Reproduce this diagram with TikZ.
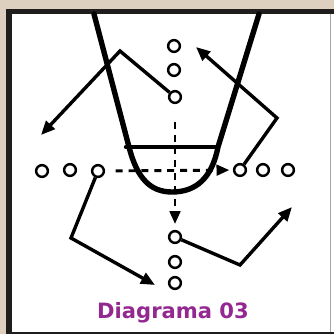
\documentclass[tikz,border=0pt]{standalone}
\usepackage{fontspec}
\usetikzlibrary{arrows.meta}
\newfontfamily\labelfont{DejaVu Sans}
\definecolor{beige}{RGB}{222,208,190}
\definecolor{framedark}{RGB}{32,29,29}
\definecolor{titlepurple}{RGB}{147,40,145}
\tikzset{
  player/.style={circle,draw=black,line width=2.1pt,minimum size=10pt,inner sep=0pt,fill=white},
  lane/.style={line width=4.6pt,line join=round,line cap=round},
  route/.style={line width=2.9pt,line join=miter,-{Triangle[length=12pt,width=10pt]}},
  dashroute/.style={line width=2.5pt,dash pattern=on 6pt off 5pt,-{Triangle[length=11pt,width=9pt]}},
  title/.style={font=\labelfont\bfseries\fontsize{18pt}{20pt}\selectfont,text=titlepurple}
}
\begin{document}
\begin{tikzpicture}[x=0.03cm,y=-0.03cm]
\useasboundingbox (0,0) rectangle (334,334);
% frame
\fill[beige] (0,0) rectangle (334,334);
\fill[framedark] (6,9) rectangle (334,334);
\fill[white] (12,14) rectangle (334,332);
\draw[gray!70,line width=1.2pt] (330.5,14) -- (330.5,332);
% lane
\draw[lane] (94,14) -- (129,147) .. controls (137,178) and (150,192) .. (172,192)
  .. controls (196,192) and (212,178) .. (218,147) -- (259,14);
\draw[lane,line width=3.8pt] (126,147) -- (218,147);
% players
\node[player] (t1) at (174,46) {};
\node[player] (t2) at (174,70) {};
\node[player] (t3) at (175,97) {};
\node[player] (l1) at (42,171) {};
\node[player] (l2) at (70,170) {};
\node[player] (l3) at (98,171) {};
\node[player] (r1) at (240,170) {};
\node[player] (r2) at (263,170) {};
\node[player] (r3) at (288,170) {};
\node[player] (b1) at (175,237) {};
\node[player] (b2) at (175,262) {};
\node[player] (b3) at (175,283) {};
% bend and end points
\coordinate (k1) at (120,51);
\coordinate (e1) at (41,135);
\coordinate (k2) at (277,118);
\coordinate (e2) at (196,47);
\coordinate (k3) at (71,238);
\coordinate (e3) at (155,285);
\coordinate (k4) at (240,265);
\coordinate (e4) at (292,207);
% dashed cuts
\draw[dashroute,shorten <=15pt,shorten >=5pt] (t3) -- (b1);
\draw[dashroute,shorten <=9pt,shorten >=3pt] (l3) -- (r1);
% routes
\draw[route] (t3) -- (k1) -- (e1);
\draw[route] (r1) -- (k2) -- (e2);
\draw[route] (l3) -- (k3) -- (e3);
\draw[route] (b1) -- (k4) -- (e4);
% title
\node[title] (cap) at (173,313) {Diagrama 03};
\end{tikzpicture}
\end{document}
